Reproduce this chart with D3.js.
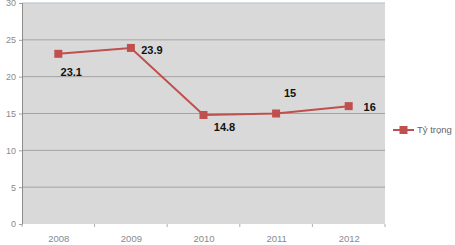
<!DOCTYPE html>
<html>
<head>
  <meta charset="utf-8">
  <style>
    body { margin: 0; background: #fff; font-family: "Liberation Sans", Arial, sans-serif; }
    svg { display: block; }
  </style>
</head>
<body>
  <svg width="455" height="245"></svg>
  <script src="https://d3js.org/d3.v7.min.js"></script>
  <script>
    const years = ["2008", "2009", "2010", "2011", "2012"];
    const values = [23.1, 23.9, 14.8, 15, 16];
    const yTicks = [0, 5, 10, 15, 20, 25, 30];
    const seriesName = "Tỷ trọng";
    // label offsets relative to each point (dx, dy)
    const labelPos = [[13, 18], [21, 2], [21, 12], [14, -20], [21, 1]];

    const svg = d3.select("svg");
    const pl = 22, pr = 385, pt = 3, pb = 224;
    const red = "#c0504d";

    const x = d3.scalePoint().domain(years).range([pl, pr]).padding(0.5);
    const y = d3.scaleLinear().domain([0, 30]).range([pb, pt]);

    svg.append("rect")
      .attr("x", pl).attr("y", pt)
      .attr("width", pr - pl).attr("height", pb - pt)
      .attr("fill", "#d9d9d9");

    svg.append("g").selectAll("line")
      .data(yTicks.filter(d => d > 0)).enter()
      .append("line")
      .attr("x1", pl).attr("x2", pr)
      .attr("y1", d => y(d)).attr("y2", d => y(d))
      .attr("stroke", d => d === 30 ? "#b4bccb" : "#a3a3a3")
      .attr("stroke-width", 1);

    // y axis
    const yAxis = svg.append("g")
      .attr("transform", `translate(${pl},0)`)
      .call(d3.axisLeft(y).tickValues(yTicks).tickSize(3).tickPadding(3));
    yAxis.select(".domain").attr("stroke", "#8c8c8c");
    yAxis.selectAll(".tick line").attr("stroke", "#a0a0a0");
    yAxis.selectAll("text").attr("fill", "#8a8a8a").attr("font-size", 9);

    // x axis
    const step = x.step();
    const xAxis = svg.append("g")
      .attr("transform", `translate(0,${pb})`)
      .call(d3.axisBottom(x).tickSize(0).tickPadding(11));
    xAxis.select(".domain").remove();
    xAxis.selectAll("text").attr("fill", "#8a8a8a").attr("font-size", 9.5);
    xAxis.selectAll(".sep")
      .data(d3.range(years.length + 1)).enter()
      .append("line")
      .attr("x1", i => pl + i * step).attr("x2", i => pl + i * step)
      .attr("y1", 0).attr("y2", 3)
      .attr("stroke", "#b0b0b0");

    const line = d3.line().x((d, i) => x(years[i])).y(d => y(d));
    svg.append("path")
      .datum(values)
      .attr("fill", "none")
      .attr("stroke", red)
      .attr("stroke-width", 2)
      .attr("d", line);

    svg.selectAll(".pt")
      .data(values).enter()
      .append("rect")
      .attr("x", (d, i) => x(years[i]) - 4)
      .attr("y", d => y(d) - 4)
      .attr("width", 8).attr("height", 8)
      .attr("fill", red);

    svg.selectAll(".lbl")
      .data(values).enter()
      .append("text")
      .attr("x", (d, i) => x(years[i]) + labelPos[i][0])
      .attr("y", (d, i) => y(d) + labelPos[i][1])
      .attr("dy", "0.35em")
      .attr("text-anchor", "middle")
      .attr("font-size", 11)
      .attr("font-weight", "bold")
      .attr("fill", "#111")
      .text(d => d);

    // legend
    const lg = svg.append("g").attr("transform", "translate(393,130)");
    lg.append("line").attr("x1", 0).attr("x2", 21).attr("stroke", red).attr("stroke-width", 2);
    lg.append("rect").attr("x", 6.5).attr("y", -4).attr("width", 8).attr("height", 8).attr("fill", red);
    lg.append("text").attr("x", 24).attr("dy", "0.35em")
      .attr("font-size", 9.5).attr("fill", "#666").text(seriesName);
  </script>
</body>
</html>
